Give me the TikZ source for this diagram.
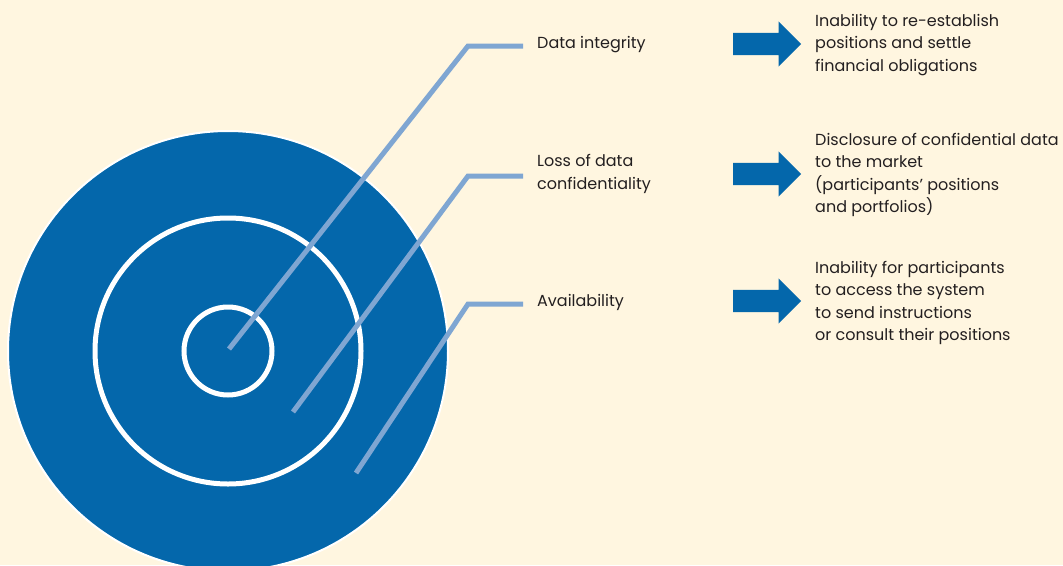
\documentclass[tikz,border=0pt]{standalone}
\usepackage{fontspec}
\setmainfont{Poppins}
\usetikzlibrary{positioning,shapes.arrows}
\definecolor{cream}{HTML}{FFF6E0}
\definecolor{target}{HTML}{0467AB}
\definecolor{pointer}{HTML}{7FA6D2}
\definecolor{ink}{HTML}{231F20}

\begin{document}
\begin{tikzpicture}[
  x=1pt, y=-1pt,
  lbl/.style={anchor=west, align=left, inner sep=0pt, text=ink, font=\fontsize{16}{22.6}\selectfont},
  bigarrow/.style={single arrow, fill=target, draw=none, minimum height=68pt, inner xsep=0pt, inner ysep=11pt, single arrow head extend=11.5pt, anchor=tail},
  ptr/.style={draw=pointer, line width=5pt},
  ring/.style={draw=white, line width=5pt}
]
\fill[cream] (0,0) rectangle (1063,565);
\clip (0,0) rectangle (1063,565);

% target
\filldraw[fill=target, draw=white, line width=2pt] (228,351) circle (220pt);
\draw[ring] (228,351) circle (133pt);
\draw[ring] (228,351) circle (44pt);

% labels
\node[lbl] (integ) at (537,45) {Data integrity};
\node[lbl] (conf) at (537,174) {Loss of data\\confidentiality};
\node[lbl] (avail) at (537,302) {Availability};

% arrows
\node[bigarrow] (arrA) at (733,44) {};
\node[bigarrow] (arrB) at (733,174) {};
\node[bigarrow] (arrC) at (733,301) {};

% consequences
\node[lbl] (effA) at (815,45) {Inability to re-establish\\positions and settle\\financial obligations};
\node[lbl] (effB) at (815,175) {Disclosure of confidential data\\to the market\\(participants’ positions\\and portfolios)};
\node[lbl] (effC) at (815,303) {Inability for participants\\to access the system\\to send instructions\\or consult their positions};

% pointers
\coordinate (hitA) at (229,349);
\coordinate (hitB) at (293,412);
\coordinate (hitC) at (356,473);
\draw[ptr] (hitA) -- ([xshift=-69pt,yshift=-1pt]integ.west) -- ([xshift=-14pt,yshift=-1pt]integ.west);
\draw[ptr] (hitB) -- ([xshift=-69pt,yshift=-2pt]conf.west) -- ([xshift=-14pt,yshift=-2pt]conf.west);
\draw[ptr] (hitC) -- ([xshift=-69pt,yshift=-2pt]avail.west) -- ([xshift=-14pt,yshift=-2pt]avail.west);
\end{tikzpicture}
\end{document}
